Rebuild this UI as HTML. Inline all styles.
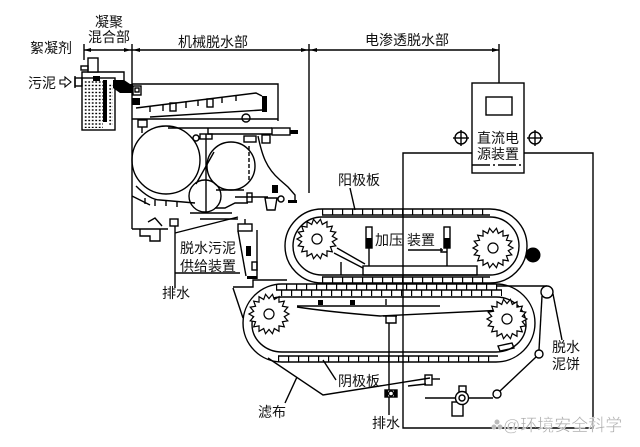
<!DOCTYPE html>
<html><head><meta charset="utf-8">
<style>
html,body{margin:0;padding:0;background:#fff;}
svg{display:block;}
text{font-family:"Liberation Sans","Noto Sans CJK SC",sans-serif;font-size:14px;fill:#111;}
</style></head><body>
<svg width="640" height="447" viewBox="0 0 640 447" xmlns="http://www.w3.org/2000/svg">
<defs>
<pattern id="dots" width="3.5" height="3.5" patternUnits="userSpaceOnUse"><rect x="0.8" y="0.8" width="1.8" height="1.4" fill="#000"/></pattern>
<g id="spr">
<polygon points="20,0 15.26,2.69 18.79,6.84 13.42,7.75 15.32,12.86 9.96,11.87 10,17.32 5.3,14.57 3.47,19.7 0,15.5 -3.47,19.7 -5.3,14.57 -10,17.32 -9.96,11.87 -15.32,12.86 -13.42,7.75 -18.79,6.84 -15.26,2.69 -20,0 -15.26,-2.69 -18.79,-6.84 -13.42,-7.75 -15.32,-12.86 -9.96,-11.87 -10,-17.32 -5.3,-14.57 -3.47,-19.7 0,-15.5 3.47,-19.7 5.3,-14.57 10,-17.32 9.96,-11.87 15.32,-12.86 13.42,-7.75 18.79,-6.84 15.26,-2.69" fill="#fff" stroke="#000" stroke-width="1.2"/>
<circle r="5" fill="#fff" stroke="#000" stroke-width="1.2"/>
</g>
</defs>

<g stroke="#000" stroke-width="1.4" fill="none">
<line x1="84" y1="44" x2="84" y2="60"/>
<line x1="132" y1="44" x2="132" y2="229"/>
<line x1="309" y1="44" x2="309" y2="193"/>
<line x1="499" y1="44" x2="499" y2="83"/>
<line x1="84" y1="50" x2="499" y2="50"/>
</g>
<g fill="#000">
<polygon points="84,50 91,48 91,52"/>
<polygon points="131,50 124,48 124,52"/>
<polygon points="133,50 140,48 140,52"/>
<polygon points="308,50 301,48 301,52"/>
<polygon points="310,50 317,48 317,52"/>
<polygon points="499,50 492,48 492,52"/>
</g>

<!-- mixer tank -->
<g stroke="#000" stroke-width="1.4" fill="none">
<rect x="82" y="78" width="33" height="52"/>
<rect x="84" y="81" width="19" height="47" fill="url(#dots)" stroke="none"/>
<rect x="108" y="84" width="5" height="42" fill="url(#dots)" stroke="none"/>
<path d="M82,78 V72 H124 V82"/>
<rect x="88" y="58" width="10" height="14" fill="#fff"/>
<rect x="81" y="66" width="7" height="4"/>
<rect x="75" y="78" width="7" height="8"/>
<line x1="75" y1="76" x2="75" y2="88"/>
<path d="M60,80 h5 v-3 l6,5 l-6,5 v-3 h-5 z" stroke-width="1.1"/>
</g>
<g fill="#000">
<rect x="93" y="76" width="7" height="5"/>
<rect x="103" y="80" width="4" height="42"/>
<polygon points="113,80 124,80 130,84 133,84 133,93 120,93 113,88"/>
</g>

<!-- mechanical dewatering -->
<g stroke="#000" stroke-width="1.4" fill="none">
<path d="M132,84 H278 V121"/>
<rect x="133" y="86" width="8" height="9"/>
<rect x="135" y="88" width="4" height="4"/>
<path d="M136,108 L256,93 L262,96"/>
<path d="M150,117 L262,110"/>
<line x1="150" y1="106" x2="150" y2="112"/>
<line x1="163" y1="105" x2="163" y2="111"/>
<rect x="170" y="103" width="6" height="8"/>
<line x1="186" y1="102" x2="186" y2="108"/>
<line x1="198" y1="100" x2="198" y2="106"/>
<rect x="207" y="99" width="6" height="8"/>
<line x1="222" y1="97" x2="222" y2="103"/>
<line x1="236" y1="95" x2="236" y2="101"/>
<circle cx="246" cy="118" r="4"/>
<line x1="132" y1="119" x2="278" y2="119"/>
<line x1="168" y1="128" x2="272" y2="128"/>
<path d="M208,128 V134 H272"/>
<rect x="272" y="128" width="18" height="7"/>
<rect x="138" y="120" width="9" height="7"/>
<line x1="142" y1="127" x2="142" y2="133"/>
<rect x="200" y="134" width="12" height="5"/>
<rect x="244" y="136" width="12" height="6"/>
<rect x="262" y="135" width="8" height="8"/>
<circle cx="196" cy="138" r="3"/>
<circle cx="166" cy="160" r="34"/>
<circle cx="231" cy="166" r="24"/>
<circle cx="205" cy="196" r="16"/>
<line x1="206" y1="134" x2="206" y2="212"/>
<line x1="196" y1="184" x2="214" y2="152"/>
<line x1="249" y1="146" x2="249" y2="182" stroke-dasharray="4 2"/>
<path d="M258,136 C262,155 266,168 280,180 L288,187 L295,195 V202"/>
<path d="M136,186 Q150,200 160,200 L195,203"/>
<line x1="145" y1="198" x2="145" y2="204"/>
<line x1="155" y1="200" x2="155" y2="206"/>
<line x1="166" y1="200" x2="166" y2="206"/>
<line x1="177" y1="201" x2="177" y2="207"/>
<path d="M215,208 L225,208 L235,203 L248,203"/>
<line x1="235" y1="197" x2="268" y2="197"/>
<rect x="247" y="193" width="5" height="9"/>
<path d="M265,198 H277 L275,210 H267 Z"/>
<circle cx="281" cy="199" r="3"/>
<path d="M216,190 H244"/>
<path d="M132,196 L150,205"/>
<line x1="190" y1="213" x2="232" y2="213"/>
<line x1="200" y1="219" x2="238" y2="219"/>
<line x1="175" y1="233" x2="238" y2="217"/>
<rect x="170" y="219" width="8" height="7"/>
<line x1="175" y1="226" x2="175" y2="288"/>
<line x1="175" y1="273" x2="240" y2="273"/>
<path d="M132,229 H168 M140,229 V236 H150 V241 H160 V229 M148,222 L155,218 L162,226"/>
<rect x="238" y="224" width="14" height="7"/>
<line x1="245" y1="219" x2="245" y2="224"/>
<line x1="257" y1="230" x2="257" y2="279"/>
<line x1="238" y1="231" x2="246" y2="276"/>
<rect x="252" y="262" width="5" height="8"/>
</g>
<g fill="#000">
<rect x="132" y="98" width="8" height="7"/>
<rect x="262" y="96" width="5" height="16"/>
<rect x="290" y="130" width="8" height="4"/>
<rect x="272" y="185" width="6" height="8"/>
<rect x="288" y="200" width="9" height="3"/>
<rect x="246" y="246" width="5" height="10"/>
<rect x="247" y="276" width="10" height="3"/>
</g>

<!-- upper belt (anode) -->
<g stroke="#000" stroke-width="1.4" fill="none">
<path d="M322,209 L490,209 A37,37 0 0 1 490,283 L322,283 A37,37 0 0 1 322,209 Z"/>
<path d="M322,217 L490,217 A29,29 0 0 1 490,275 L322,275 A29,29 0 0 1 322,217 Z"/>
<line x1="322" y1="215" x2="490" y2="215"/>
<line x1="322" y1="212" x2="490" y2="212" stroke-width="6" stroke-dasharray="1.2 8.8"/>
<line x1="322" y1="277" x2="490" y2="277"/>
<line x1="322" y1="280" x2="490" y2="280" stroke-width="6" stroke-dasharray="1.2 8.8"/>
<line x1="334" y1="253" x2="363" y2="268"/>
<line x1="337" y1="248" x2="365" y2="264"/>
<line x1="341" y1="262" x2="341" y2="275"/>
<rect x="363" y="266" width="114" height="9"/>
<rect x="366" y="227" width="6" height="21"/>
<rect x="444" y="227" width="6" height="21"/>
<line x1="369" y1="248" x2="369" y2="266"/>
<line x1="447" y1="248" x2="447" y2="266"/>
<path d="M441,248 V252 H447"/>
<line x1="408" y1="250" x2="443" y2="250"/>
<line x1="350" y1="188" x2="355" y2="210"/>
</g>
<g fill="#000">
<rect x="366" y="238" width="6" height="10"/>
<rect x="444" y="238" width="6" height="10"/>
<circle cx="533" cy="255" r="7.5"/>
</g>
<use href="#spr" x="317" y="239"/>
<use href="#spr" x="493" y="248"/>

<!-- lower belt (cathode) -->
<g stroke="#000" stroke-width="1.4" fill="none">
<path d="M282,284 L496,284 A39,39 0 0 1 496,362 L282,362 A39,39 0 0 1 282,284 Z"/>
<path d="M282,297 L496,297 A30,27.5 0 0 1 496,352 L282,352 A30,27.5 0 0 1 282,297 Z"/>
<line x1="276" y1="290" x2="502" y2="290"/>
<line x1="276" y1="287" x2="502" y2="287" stroke-width="6" stroke-dasharray="1.2 8.8"/>
<line x1="276" y1="293" x2="502" y2="293" stroke-width="6" stroke-dasharray="1.2 8.8" stroke-dashoffset="5"/>
<line x1="278" y1="356" x2="498" y2="356"/>
<line x1="278" y1="359" x2="498" y2="359" stroke-width="6" stroke-dasharray="1.2 8.8"/>
<path d="M233,287 H253 V280 H287"/>
<line x1="233" y1="288" x2="243" y2="318"/>
<path d="M297,306 H440"/>
<path d="M297,307 Q330,312 380,316 L505,310"/>
<line x1="386" y1="299" x2="386" y2="305"/>
<path d="M383,316 H397 M386,316 V323 H396 V316"/>
<line x1="389" y1="323" x2="389" y2="415"/>
<path d="M498,346 L512,343 L514,348 L500,351 Z"/>
<path d="M268,358 L323,395 L430,378"/>
<path d="M408,386 L426,384"/>
<rect x="425" y="375" width="7" height="10"/>
<line x1="432" y1="379" x2="440" y2="379"/>
<line x1="497" y1="286" x2="547" y2="286"/>
<circle cx="547" cy="292" r="6" fill="#fff"/>
<line x1="542" y1="296" x2="539" y2="350"/>
<line x1="553" y1="294" x2="562" y2="340"/>
<circle cx="539" cy="354" r="4" fill="#fff"/>
<line x1="536" y1="357" x2="500" y2="391"/>
<circle cx="497" cy="394" r="4" fill="#fff"/>
<line x1="425" y1="398" x2="493" y2="398"/>
<rect x="459" y="386" width="7" height="6"/>
<rect x="452" y="402" width="11" height="14"/>
<circle cx="462" cy="398" r="6.5" fill="#fff"/>
<circle cx="462" cy="398" r="3"/>
<rect x="385" y="390" width="12" height="7" fill="#fff"/>
<circle cx="391" cy="393.5" r="2.5"/>
<line x1="323" y1="360" x2="336" y2="380"/>
<line x1="297" y1="377" x2="285" y2="403"/>
</g>
<g fill="#000">
<rect x="318" y="300" width="5" height="5"/>
<rect x="350" y="300" width="5" height="5"/>
<rect x="385" y="390" width="3" height="7"/>
<rect x="394" y="390" width="3" height="7"/>
</g>
<use href="#spr" x="269" y="314"/>
<use href="#spr" x="507" y="319"/>

<!-- wiring and DC power supply -->
<g stroke="#000" stroke-width="1.4" fill="none">
<path d="M472,153 H403 V428 H593 V153 H524"/>
<rect x="472" y="83" width="52" height="90" fill="#fff"/>
<rect x="486" y="97" width="26" height="18"/>
<line x1="472" y1="165" x2="524" y2="165" stroke-dasharray="18 3 2 3"/>
<circle cx="461" cy="138" r="6"/>
<line x1="453" y1="138" x2="469" y2="138"/>
<line x1="461" y1="130" x2="461" y2="146"/>
<circle cx="535" cy="138" r="6"/>
<line x1="527" y1="138" x2="543" y2="138"/>
<line x1="535" y1="130" x2="535" y2="146"/>
</g>

<!-- labels -->
<text x="95" y="27">凝聚</text>
<text x="88" y="42">混合部</text>
<text x="30" y="53">絮凝剂</text>
<text x="28" y="88">污泥</text>
<text x="178" y="47">机械脱水部</text>
<text x="365" y="45">电渗透脱水部</text>
<text x="477" y="143">直流电</text>
<text x="477" y="159">源装置</text>
<text x="338" y="185">阳极板</text>
<text x="375" y="245">加压</text>
<text x="407" y="245">装置</text>
<text x="180" y="253">脱水污泥</text>
<text x="180" y="271">供给装置</text>
<text x="162" y="298">排水</text>
<text x="338" y="386">阴极板</text>
<text x="258" y="417">滤布</text>
<text x="372" y="428">排水</text>
<text x="552" y="352">脱水</text>
<text x="552" y="369">泥饼</text>
<g fill="#bbb"><circle cx="494" cy="427" r="2.5"/><circle cx="500" cy="427" r="2.5"/><circle cx="497" cy="422" r="2.5"/></g>
<text x="503" y="431" style="font-size:17px;fill:#aaa;stroke:#fff;stroke-width:0.4">@环境安全科学</text>
</svg>
</body></html>
